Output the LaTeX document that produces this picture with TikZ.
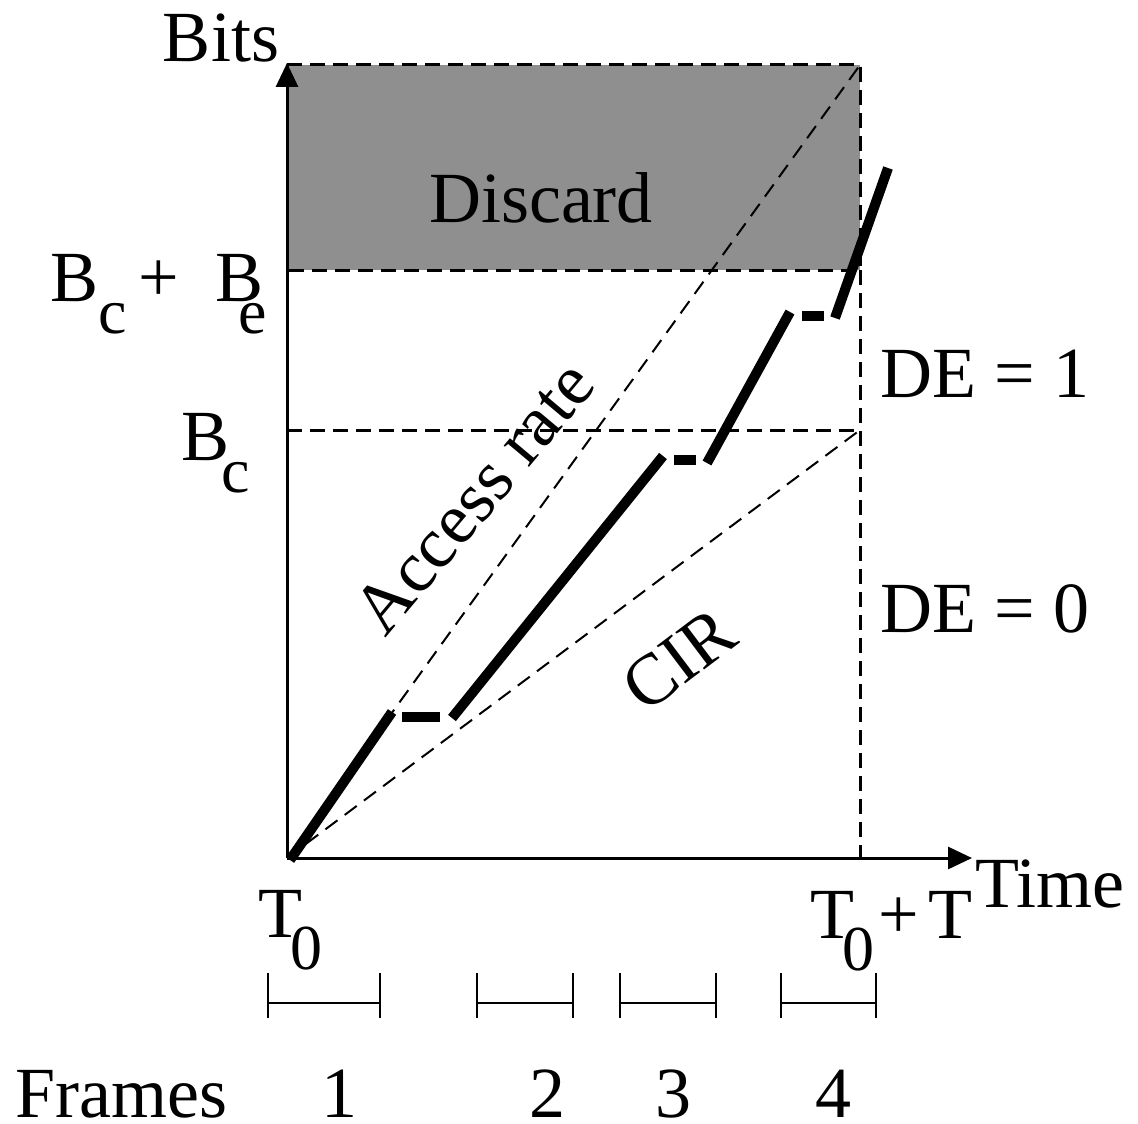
\documentclass[tikz,border=0pt]{standalone}
\usepackage{fontspec}
\setmainfont{Liberation Serif}
\usetikzlibrary{arrows.meta}
\definecolor{discfill}{HTML}{8F8F8F}
\definecolor{inkline}{HTML}{000000}
\newcommand{\dn}[1]{\raisebox{-16pt}{\fontsize{32}{32}\selectfont #1}}
\tikzset{
  axisline/.style = {line width=1.5pt, draw=inkline, -{Triangle[length=12pt, width=11pt]}},
  bound/.style    = {line width=1.5pt, draw=inkline, dash pattern=on 7.5pt off 4pt},
  rateline/.style = {line width=1pt, draw=inkline, dash pattern=on 7.5pt off 4.5pt},
  burst/.style    = {line width=5pt, draw=inkline},
  span/.style     = {line width=1.2pt, draw=inkline},
  lbl/.style      = {inner sep=0pt, font=\fontsize{36}{40}\selectfont},
}
\begin{document}
\begin{tikzpicture}[x=0.5pt, y=-0.5pt]
\useasboundingbox (0,0) rectangle (1138,1123);
\coordinate (O) at (287,858);
\coordinate (ytip) at (287,63);
\coordinate (xtip) at (972,858);
\coordinate (topR) at (860,65);
\coordinate (beL) at (287,270);
\coordinate (beR) at (860,270);
\coordinate (bcL) at (287,430);
\coordinate (bcR) at (860,430);
\coordinate (endR) at (860,858);
\fill[discfill] (287,65) rectangle (beR);
\draw[bound] (287,65) rectangle (beR);
\draw[bound] (beR) -- (endR);
\draw[bound] (bcL) -- (bcR);
\draw[rateline] (O) -- (topR);
\draw[rateline] (O) -- (bcR);
\draw[axisline] (O) -- (ytip);
\draw[axisline] (O) -- (xtip);
\foreach \a/\b/\c/\d in {290/860/392/712, 402/717/440/717, 452/718/663/456, 674/460/696/460,
                         707/463/790/312, 802/316/824/316, 835/318/888/168}{\draw[burst] (\a,\b) -- (\c,\d);}
\foreach \a/\b in {268/380, 477/573, 620/716, 781/876}{
  \draw[span] (\a,973) -- (\a,1018);
  \draw[span] (\b,973) -- (\b,1018);
  \draw[span] (\a,1003) -- (\b,1003);
}
\node[lbl, anchor=base] (bits) at (221,62) {Bits};
\node[lbl, anchor=base] (discard) at (541,222) {Discard};
\node[lbl, anchor=base west] (bcbe) at (50,301) {B\dn{c}\hspace{6pt}+\hspace{18pt}B\kern-12.5pt\dn{e}};
\node[lbl, anchor=base west] (bc) at (181,460) {B\kern-4pt\dn{c}};
\node[lbl, anchor=base west] (de1) at (880,397) {DE = 1};
\node[lbl, anchor=base west] (de0) at (880,632) {DE = 0};
\node[lbl, anchor=base west] (tzero) at (258,937) {T\kern-6pt\dn{0}};
\node[lbl, anchor=base west] (tend) at (810,938) {T\kern-6pt\dn{0}\kern2pt+\kern5pt T};
\node[lbl, anchor=base west] (time) at (975,907) {Time};
\node[lbl, rotate=50] (access) at (474,497) {Access rate};
\node[lbl, rotate=37] (cir) at (679,660) {CIR};
\node[lbl, anchor=base west] (frames) at (15,1117) {Frames};
\foreach \x/\n in {339/1, 547/2, 673/3, 833/4}{\node[lbl, anchor=base] (fr\n) at (\x,1117) {\n};}
\end{tikzpicture}
\end{document}
